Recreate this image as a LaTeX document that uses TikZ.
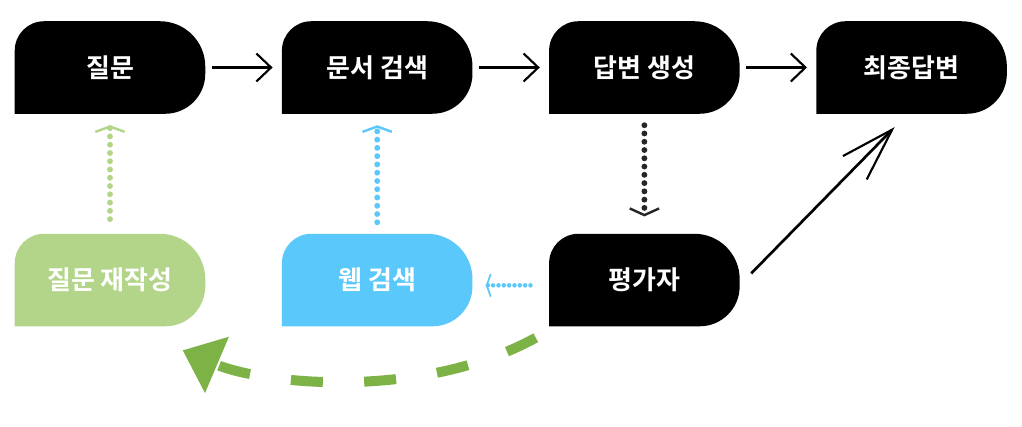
\documentclass[tikz,border=0pt]{standalone}
\usepackage{fontspec}
\newfontfamily\krfont{Noto Sans CJK KR}[BoldFont={Noto Sans CJK KR Bold}]
\usepackage{tikz}
\usetikzlibrary{arrows.meta,positioning,backgrounds}

\definecolor{leaf}{HTML}{B2D589}
\definecolor{sky}{HTML}{5AC8FA}
\definecolor{moss}{HTML}{7DB247}

% card shape: sharp lower-left, round elsewhere
\newcommand\cardfill[2]{%
  \fill[#2] (#1.south west) -- ([yshift=-22pt]#1.north west)
    arc[start angle=180,end angle=90,radius=22pt] -- ([xshift=-34pt]#1.north east)
    arc[start angle=90,end angle=0,radius=34pt] -- ([yshift=30pt]#1.south east)
    arc[start angle=0,end angle=-90,radius=30pt] -- cycle;}

\begin{document}
\begin{tikzpicture}[
  x=0.75pt,y=-0.75pt,
  node distance=90pt and 57.5pt,
  card/.style={minimum width=142.5pt,minimum height=69pt,inner sep=0pt,align=center,
    text=white,font=\krfont\bfseries\fontsize{19.5}{22}\selectfont},
  flow/.style={-{Straight Barb[length=11pt,width=21pt,line width=1.6pt]},line width=2pt,
    shorten <=5pt,shorten >=7pt},
  dots/.style={line width=4.4pt,dash pattern=on 0pt off 6.2pt,line cap=round},
  pen/.style={-{Straight Barb[length=40pt,width=25pt,line width=1.6pt]},line width=2pt}
]
  \useasboundingbox (0,0) rectangle (1022,427);

  \node[card] (q) at (110,67.5) {질문};
  \node[card, right=of q] (ds) {문서 검색};
  \node[card, right=of ds] (ag) {답변 생성};
  \node[card, right=of ag] (fa) {최종답변};
  \node[card, below=of q] (rw) {질문 재작성};
  \node[card, below=of ds] (ws) {웹 검색};
  \node[card, below=of ag] (pe) {평가자};

  \begin{scope}[on background layer]
    \cardfill{q}{black}
    \cardfill{ds}{black}
    \cardfill{ag}{black}
    \cardfill{fa}{black}
    \cardfill{rw}{leaf}
    \cardfill{ws}{sky}
    \cardfill{pe}{black}
  \end{scope}

  \draw[flow] (q) -- (ds);
  \draw[flow] (ds) -- (ag);
  \draw[flow] (ag) -- (fa);

  \draw[dots,leaf,-{Straight Barb[length=4pt,width=22pt,line width=1.8pt]},
    shorten <=11pt,shorten >=8.6pt] (rw.north) -- (q.south);
  \draw[dots,sky,-{Straight Barb[length=4pt,width=22pt,line width=1.8pt]},
    shorten <=8.6pt,shorten >=8.6pt] (ws.north) -- (ds.south);
  \draw[dots,black!85,-{Straight Barb[length=5pt,width=22pt,line width=1.8pt]},
    shorten <=8.6pt,shorten >=13pt] (ag.south) -- (pe.north);
  \draw[dots,sky,line width=3.4pt,dash pattern=on 0pt off 4pt,
    -{Straight Barb[length=3pt,width=17pt,line width=1.3pt]},
    shorten <=14pt,shorten >=10pt] ([yshift=-4pt]pe.west) -- ([yshift=-4pt]ws.east);

  \draw[pen] ([xshift=8.7pt,yshift=5pt]pe.east) -- ([xshift=-12.7pt,yshift=-10pt]fa.south);

  \draw[moss,line width=7.5pt,dash pattern=on 24pt off 31pt,
    -{Triangle[length=28pt,width=44pt]}]
    ([xshift=-10pt,yshift=-8.6pt]pe.south west)
    .. controls +(-115,63) and +(80,34) .. ([xshift=-17pt,yshift=-18pt]rw.south east);
\end{tikzpicture}
\end{document}
